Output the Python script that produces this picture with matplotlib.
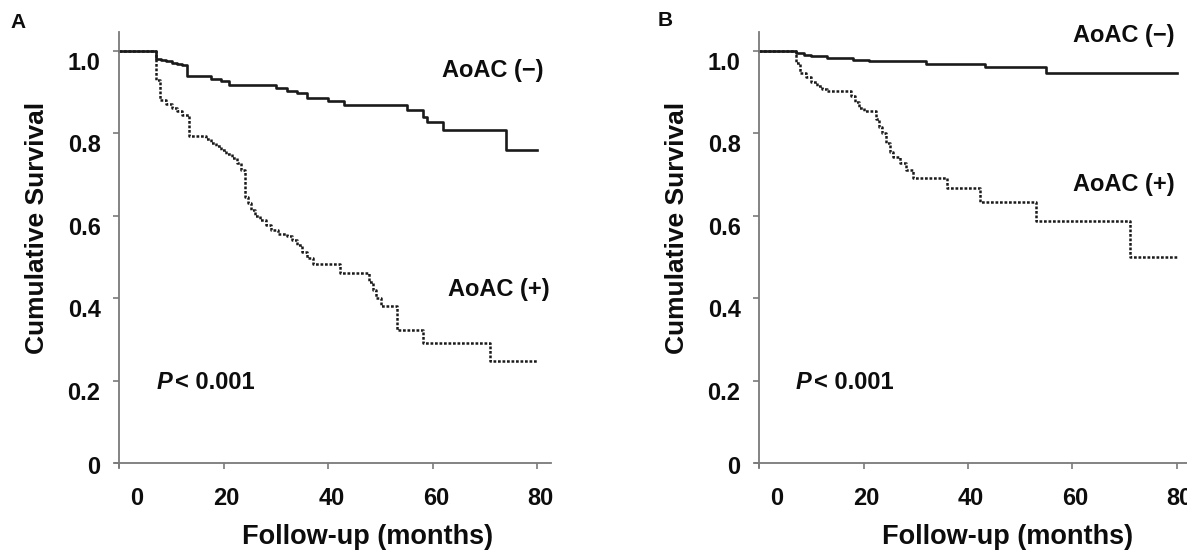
import matplotlib
matplotlib.use("Agg")
import matplotlib.pyplot as plt
import matplotlib.transforms as mtransforms

plt.rcParams['font.family'] = ['Liberation Sans', 'DejaVu Sans']
plt.rcParams['font.weight'] = 'bold'

# panel A - AoAC (-) and AoAC (+), months vs cumulative survival
a_neg_t = [0, 7, 8, 9, 10, 11, 12, 13, 17.5, 19.5, 21, 30, 32, 34, 36, 40, 43, 55, 58.2, 58.8, 62, 74, 80]
a_neg_s = [1.0, 0.98, 0.977, 0.974, 0.971, 0.968, 0.965, 0.938, 0.932, 0.927, 0.918, 0.909, 0.903, 0.897, 0.885, 0.878, 0.869, 0.856, 0.840, 0.827, 0.808, 0.759, 0.759]

a_pos_t = [0, 7, 7.8, 9, 10, 11, 12, 13.3, 16.5, 17.5, 18.5, 19.5, 20.5, 21.5, 22.5, 23.2, 24, 24.6, 25.3, 26,
           27, 28, 29, 30.4, 32, 33, 34, 35, 35.9, 37, 42.3, 47.8, 48.5, 49.2, 50, 53.2, 58.2, 70.9, 80]
a_pos_s = [1.0, 0.929, 0.880, 0.871, 0.862, 0.853, 0.844, 0.792, 0.785, 0.776, 0.768, 0.759, 0.750, 0.740, 0.728, 0.711, 0.645, 0.630, 0.615, 0.600,
           0.590, 0.578, 0.566, 0.556, 0.552, 0.540, 0.530, 0.512, 0.497, 0.484, 0.460, 0.440, 0.420, 0.400, 0.382, 0.323, 0.291, 0.249, 0.249]

# panel B
b_neg_t = [0, 7, 8.5, 10, 13, 18, 21, 32, 43.3, 55, 80]
b_neg_s = [1.0, 0.994, 0.99, 0.986, 0.982, 0.978, 0.974, 0.968, 0.96, 0.946, 0.946]

b_pos_t = [0, 7, 7.8, 9, 10, 11, 12, 13, 17.5, 18.3, 19.1, 20, 22.3, 23, 23.6, 24.3, 25, 25.7, 27, 28.2, 29.5, 36, 42.2, 53.1, 71, 80]
b_pos_s = [1.0, 0.97, 0.945, 0.935, 0.925, 0.915, 0.908, 0.903, 0.89, 0.876, 0.862, 0.855, 0.835, 0.816, 0.80, 0.776, 0.755, 0.743, 0.728, 0.712, 0.691, 0.667, 0.634, 0.586, 0.501, 0.501]

x_ticks = [0, 20, 40, 60, 80]
y_ticks = [0, 0.2, 0.4, 0.6, 0.8, 1.0]
y_labels = ['0', '0.2', '0.4', '0.6', '0.8', '1.0']

W, H = 1187, 551
fig = plt.figure(figsize=(W / 100, H / 100), dpi=100)

axis_col = '#7a7a7a'
line_col = '#1a1a1a'
txt_col = '#0d0d0d'


def rect(x0, x1, y_top, y_bot):
    return [x0 / W, 1 - y_bot / H, (x1 - x0) / W, (y_bot - y_top) / H]


def setup(ax, xmax):
    ax.set_xlim(-0.9, xmax)
    ax.set_ylim(-0.01, 1.046)
    ax.spines['top'].set_visible(False)
    ax.spines['right'].set_visible(False)
    ax.spines['left'].set_position(('data', 0))
    ax.spines['bottom'].set_position(('data', 0))
    for s in ['left', 'bottom']:
        ax.spines[s].set_color(axis_col)
        ax.spines[s].set_linewidth(1.3)
    ax.set_xticks(x_ticks)
    ax.set_xticklabels([str(v) for v in x_ticks])
    ax.set_yticks(y_ticks)
    ax.set_yticklabels(y_labels)
    ax.tick_params(axis='both', direction='out', length=4, width=1.2, color=axis_col,
                   labelsize=17, labelcolor=txt_col)
    ax.tick_params(axis='x', pad=13)
    ax.tick_params(axis='y', pad=9.5)
    ax.patch.set_alpha(0)
    for lbl in ax.get_xticklabels():
        dx = 0.17 if lbl.get_text() == '0' else 0.03
        lbl.set_transform(lbl.get_transform() + mtransforms.ScaledTranslation(dx, 0, fig.dpi_scale_trans))
    for lbl in ax.get_yticklabels():
        dy = -0.02 if lbl.get_text() == '0' else -0.10
        lbl.set_transform(lbl.get_transform() + mtransforms.ScaledTranslation(0, dy, fig.dpi_scale_trans))


def p_text(ax, x, y):
    t = ax.text(x, y, 'P', fontsize=17, style='italic', color=txt_col, va='center', ha='left')
    ax.annotate('< 0.001', xy=(1, 0.5), xycoords=t, xytext=(2, 0), textcoords='offset points',
                fontsize=17, color=txt_col, va='center', ha='left')


# Panel A
axA = fig.add_axes(rect(114.6, 550.9, 31.7, 467.4))
setup(axA, 82.6)
axA.step(a_pos_t, a_pos_s, where='post', color=line_col, lw=1.8, dashes=(1.1, 0.7))
axA.step(a_neg_t, a_neg_s, where='post', color=line_col, lw=1.9)
axA.text(71.5, 0.953, 'AoAC (\u2212)', fontsize=17, ha='center', va='center', color=txt_col)
axA.text(72.7, 0.42, 'AoAC (+)', fontsize=17, ha='center', va='center', color=txt_col)
p_text(axA, 7.2, 0.195)

# Panel B
axB = fig.add_axes(rect(754.6, 1229.0, 31.7, 467.4))
setup(axB, 90)
axB.step(b_pos_t, b_pos_s, where='post', color=line_col, lw=1.8, dashes=(1.1, 0.7))
axB.step(b_neg_t, b_neg_s, where='post', color=line_col, lw=1.9)
axB.text(69.9, 1.038, 'AoAC (\u2212)', fontsize=17, ha='center', va='center', color=txt_col)
axB.text(69.8, 0.675, 'AoAC (+)', fontsize=17, ha='center', va='center', color=txt_col)
p_text(axB, 6.9, 0.195)

# axis titles and panel letters
for cx in [37, 676.7]:
    fig.text(cx / W, 1 - 227.5 / H, 'Cumulative Survival', rotation=90, fontsize=19,
             ha='center', va='center', color=txt_col)
for cx in [368, 1008]:
    fig.text(cx / W, 1 - 536.7 / H, 'Follow-up (months)', fontsize=19.5,
             ha='center', va='center', color=txt_col)
fig.text(18 / W, 1 - 22 / H, 'A', fontsize=15, ha='center', va='center', color=txt_col)
fig.text(665 / W, 1 - 21 / H, 'B', fontsize=15, ha='center', va='center', color=txt_col)

fig.savefig('out.png', dpi=100)
